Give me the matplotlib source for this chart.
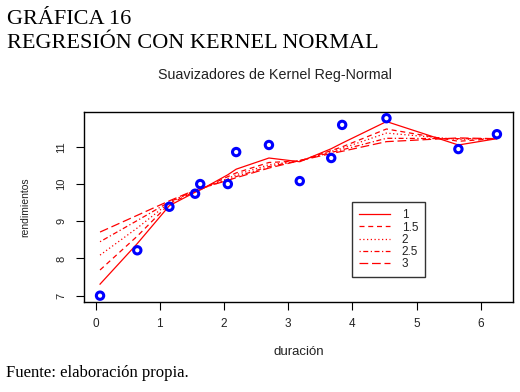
import matplotlib
matplotlib.use('Agg')
import matplotlib.pyplot as plt

# datos
duracion = [0.07, 0.65, 1.15, 1.55, 1.63, 2.06, 2.19, 2.70, 3.18, 3.67, 3.84, 4.53, 5.65, 6.25]
rendimientos = [7.00, 8.22, 9.39, 9.74, 10.00, 10.00, 10.86, 11.05, 10.08, 10.70, 11.59, 11.77, 10.94, 11.34]

# suavizadores (valores estimados en cada duracion)
anchos = ['1', '1.5', '2', '2.5', '3']
suav_1 = [7.31, 8.40, 9.42, 9.78, 9.84, 10.25, 10.40, 10.70, 10.60, 10.95, 11.10, 11.68, 11.05, 11.22]
suav_15 = [7.69, 8.60, 9.47, 9.80, 9.85, 10.20, 10.30, 10.58, 10.62, 10.90, 11.00, 11.48, 11.15, 11.22]
suav_2 = [8.09, 8.82, 9.50, 9.82, 9.86, 10.15, 10.25, 10.52, 10.62, 10.88, 10.96, 11.37, 11.20, 11.22]
suav_25 = [8.45, 9.02, 9.52, 9.83, 9.87, 10.12, 10.20, 10.47, 10.63, 10.85, 10.92, 11.23, 11.22, 11.22]
suav_3 = [8.71, 9.16, 9.55, 9.84, 9.88, 10.10, 10.17, 10.43, 10.63, 10.82, 10.88, 11.14, 11.24, 11.22]
suavizados = [suav_1, suav_15, suav_2, suav_25, suav_3]

estilos = ['-', (0, (4, 3)), (0, (1, 2)), (0, (1, 2, 4, 2)), (0, (7, 3))]

plt.rcParams['font.family'] = ['Liberation Sans', 'DejaVu Sans']
gris = '#222222'

fig = plt.figure(figsize=(5.2, 3.92), dpi=100)
ax = fig.add_axes([0.1615, 0.2296, 0.825, 0.485])

for s, ls, lab in zip(suavizados, estilos, anchos):
    ax.plot(duracion, s, color='red', linestyle=ls, linewidth=0.9, label=lab)

ax.scatter(duracion, rendimientos, s=28, facecolors='none', edgecolors='#0000ff',
           linewidths=2.2, zorder=5)

ax.set_xlim(-0.18, 6.5)
ax.set_ylim(6.83, 11.94)
ax.set_xticks(range(0, 7))
ax.set_yticks([7, 8, 9, 10, 11])
ax.tick_params(length=5.8, width=0.8, colors='black', labelcolor=gris)
ax.tick_params(axis='x', pad=6, labelsize=8.5)
ax.tick_params(axis='y', pad=7, labelsize=8)
for lab in ax.get_yticklabels():
    lab.set_rotation(90)
    lab.set_va('center')
for sp in ax.spines.values():
    sp.set_linewidth(1.0)

ax.set_xlabel('duración', fontsize=9.5, color=gris)
ax.set_ylabel('rendimientos', fontsize=7.5, color=gris)
ax.xaxis.set_label_coords(0.5, -0.263)
ax.yaxis.set_label_coords(-0.1375, 0.5)
ax.xaxis.label.set_va('center')
ax.yaxis.label.set_va('center')

leg = ax.legend(loc='upper left', bbox_to_anchor=(0.625, 0.525), fontsize=8.5,
                frameon=True, fancybox=False, edgecolor='black', handlelength=2.6,
                labelspacing=0.02, borderpad=0.6, handletextpad=1.0,
                borderaxespad=0)
leg.get_frame().set_linewidth(1.0)
for t in leg.get_texts():
    t.set_color(gris)

fig.text(275 / 520, 1 - 75 / 392, 'Suavizadores de Kernel Reg-Normal', fontsize=10.3,
         ha='center', va='center', color=gris)

serif = 'Liberation Serif'
fig.text(7 / 520, 1 - 20 / 392, 'GRÁFICA 16', fontsize=16, family=serif,
         ha='left', va='center')
fig.text(7 / 520, 1 - 43 / 392, 'REGRESIÓN CON KERNEL NORMAL', fontsize=16,
         family=serif, ha='left', va='center')
fig.text(6 / 520, 1 - 373 / 392, 'Fuente: elaboración propia.', fontsize=12,
         family=serif, ha='left', va='center')

fig.savefig('out.png', dpi=100)
